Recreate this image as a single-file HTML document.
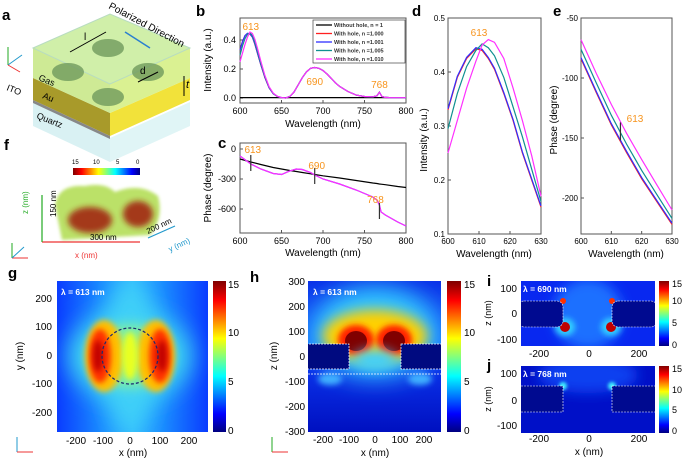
<!DOCTYPE html>
<html><head><meta charset="utf-8"><style>
html,body{margin:0;padding:0;background:#fff;}
svg{display:block;font-family:"Liberation Sans",Arial,sans-serif;}
</style></head><body>
<svg id="fig" width="685" height="460" viewBox="0 0 685 460" xmlns="http://www.w3.org/2000/svg">
<defs>
<linearGradient id="jet" x1="0" y1="1" x2="0" y2="0">
<stop offset="0" stop-color="#00007f"/><stop offset="0.12" stop-color="#0000ff"/><stop offset="0.37" stop-color="#00ffff"/><stop offset="0.62" stop-color="#ffff00"/><stop offset="0.87" stop-color="#ff0000"/><stop offset="1" stop-color="#7f0000"/></linearGradient>
<linearGradient id="jeth" x1="0" y1="0" x2="1" y2="0">
<stop offset="0" stop-color="#7f0000"/><stop offset="0.13" stop-color="#ff0000"/><stop offset="0.38" stop-color="#ffff00"/><stop offset="0.63" stop-color="#00ffff"/><stop offset="0.88" stop-color="#0000ff"/><stop offset="1" stop-color="#00007f"/></linearGradient>
<linearGradient id="gbg" x1="0" y1="0" x2="1" y2="0">
<stop offset="0" stop-color="#0a3cff"/><stop offset="0.3" stop-color="#1a8cff"/><stop offset="0.5" stop-color="#30b8ff"/><stop offset="0.7" stop-color="#1a8cff"/><stop offset="1" stop-color="#0a3cff"/></linearGradient>
<linearGradient id="hbg" x1="0" y1="0" x2="0" y2="1">
<stop offset="0" stop-color="#0a30e8"/><stop offset="0.45" stop-color="#1a70ff"/><stop offset="0.6" stop-color="#0a30e8"/><stop offset="1" stop-color="#0010c0"/></linearGradient>
<filter id="b6" x="-50%" y="-50%" width="200%" height="200%"><feGaussianBlur stdDeviation="6"/></filter>
<filter id="b3" x="-50%" y="-50%" width="200%" height="200%"><feGaussianBlur stdDeviation="3"/></filter>
<filter id="b2" x="-50%" y="-50%" width="200%" height="200%"><feGaussianBlur stdDeviation="1.5"/></filter>
<filter id="b12" x="-50%" y="-50%" width="200%" height="200%"><feGaussianBlur stdDeviation="12"/></filter>
<clipPath id="cg"><rect x="57" y="281" width="151" height="151"/></clipPath>
<clipPath id="ch"><rect x="308" y="281" width="133" height="151"/></clipPath>
<clipPath id="ci"><rect x="521" y="281" width="134" height="65"/></clipPath>
<clipPath id="cj"><rect x="521" y="366" width="134" height="67"/></clipPath>
</defs>

<!-- Panel a -->
<g>
<text x="2" y="20" font-size="15" font-weight="bold">a</text>
<polygon points="33,102 110,138 110,162 33,126" fill="#cfeef0" opacity="0.8"/>
<polygon points="110,138 190,102 190,126 110,162" fill="#d8f2f4" opacity="0.8"/>
<polygon points="33,78 110,113 110,136 33,100" fill="#a89a2a"/>
<polygon points="110,113 190,78 190,100 110,136" fill="#f2e23a"/>
<polygon points="33,100 110,136 110,139 33,103" fill="#888"/>
<polygon points="33,48 110,84 110,113 33,78" fill="#c9e88a" opacity="0.9"/>
<polygon points="110,84 190,48 190,78 110,113" fill="#d6ef86" opacity="0.9"/>
<polygon points="33,48 110,14 190,48 110,84" fill="#c8ec9a" opacity="0.85"/>
<polygon points="33,48 110,14 190,48 110,84" fill="none" stroke="#b8dcc0"/>
<ellipse cx="108" cy="48" rx="16" ry="9" fill="#6f9a5c" opacity="0.8"/>
<ellipse cx="68" cy="72" rx="16" ry="9" fill="#6f9a5c" opacity="0.8"/>
<ellipse cx="148" cy="72" rx="16" ry="9" fill="#6f9a5c" opacity="0.8"/>
<ellipse cx="108" cy="97" rx="16" ry="9" fill="#6f9a5c" opacity="0.8"/>
<line x1="70" y1="52" x2="106" y2="32" stroke="#000" stroke-width="1"/>
<text x="84" y="40" font-size="10">l</text>
<line x1="138" y1="82" x2="158" y2="72" stroke="#000"/>
<text x="140" y="74" font-size="10">d</text>
<text x="186" y="88" font-size="11" font-style="italic">t</text>
<line x1="184" y1="76" x2="184" y2="96" stroke="#000"/>
<text x="108" y="8" font-size="10" transform="rotate(28 108 8)">Polarized Direction</text>
<line x1="125" y1="32" x2="150" y2="48" stroke="#2a7fd0" stroke-width="1.5"/>
<text x="38" y="80" font-size="9" transform="rotate(22 38 80)">Gas</text>
<text x="42" y="98" font-size="9" transform="rotate(22 42 98)">Au</text>
<text x="36" y="118" font-size="9" transform="rotate(22 36 118)">Quartz</text>
<text x="6" y="90" font-size="9" transform="rotate(22 6 90)">ITO</text>
<line x1="8" y1="65" x2="8" y2="47" stroke="#2a2"/><line x1="8" y1="65" x2="22" y2="55" stroke="#29c"/><line x1="8" y1="65" x2="20" y2="72" stroke="#e33"/>
</g>

<!-- Panel f -->
<g>
<text x="4" y="150" font-size="15" font-weight="bold">f</text>
<rect x="73" y="168" width="67" height="7" fill="url(#jeth)"/>
<text x="72" y="164" font-size="6">15</text><text x="93" y="164" font-size="6">10</text><text x="116" y="164" font-size="6">5</text><text x="136" y="164" font-size="6">0</text>
<path d="M55,205 Q58,184 85,186 Q105,182 115,192 Q140,182 158,196 Q164,218 150,235 L62,240 Z" fill="#b8e060" opacity="0.95" filter="url(#b2)"/>
<ellipse cx="90" cy="220" rx="22" ry="13" fill="#a01a08" opacity="0.85" filter="url(#b3)"/>
<ellipse cx="138" cy="214" rx="15" ry="13" fill="#a01a08" opacity="0.85" filter="url(#b3)"/>
<line x1="42" y1="242" x2="140" y2="242" stroke="#e33" stroke-width="1.2"/>
<line x1="42" y1="242" x2="42" y2="195" stroke="#2a2" stroke-width="1.2"/>
<line x1="148" y1="238" x2="175" y2="226" stroke="#29c" stroke-width="1.2"/>
<text x="56" y="217" font-size="8" transform="rotate(-90 56 217)">150 nm</text>
<text x="90" y="240" font-size="8">300 nm</text>
<text x="148" y="234" font-size="8" transform="rotate(-25 148 234)">200 nm</text>
<text x="75" y="258" font-size="8" fill="#e33">x (nm)</text>
<text x="170" y="252" font-size="8" fill="#29c" transform="rotate(-25 170 252)">y (nm)</text>
<text x="28" y="214" font-size="8" fill="#2a2" transform="rotate(-90 28 214)">z (nm)</text>
<line x1="12" y1="258" x2="12" y2="243" stroke="#2a2"/><line x1="12" y1="258" x2="28" y2="258" stroke="#e33"/><line x1="12" y1="258" x2="24" y2="247" stroke="#29c"/>
</g>

<g id="charts"></g>

<!-- Panel g -->
<g>
<text x="8" y="278" font-size="15" font-weight="bold">g</text>
<g clip-path="url(#cg)">
<rect x="57" y="281" width="151" height="151" fill="url(#gbg)"/>
<ellipse cx="130" cy="356" rx="62" ry="45" fill="#40d8f0" filter="url(#b12)"/>
<ellipse cx="130" cy="356" rx="24" ry="80" fill="#40d0f8" filter="url(#b12)"/>
<ellipse cx="130" cy="356" rx="40" ry="32" fill="#80f0a0" filter="url(#b6)"/>
<ellipse cx="104" cy="356" rx="19" ry="36" fill="#ffc000" filter="url(#b3)"/>
<ellipse cx="156" cy="356" rx="19" ry="36" fill="#ffc000" filter="url(#b3)"/>
<ellipse cx="100" cy="356" rx="11" ry="27" fill="#ff3000" filter="url(#b3)"/>
<ellipse cx="160" cy="356" rx="11" ry="27" fill="#ff3000" filter="url(#b3)"/>
<ellipse cx="98" cy="356" rx="5" ry="16" fill="#c00000" filter="url(#b3)"/>
<ellipse cx="162" cy="356" rx="5" ry="16" fill="#c00000" filter="url(#b3)"/>
<ellipse cx="130" cy="356" rx="8" ry="24" fill="#e8ff20" filter="url(#b3)"/>
</g>
<ellipse cx="130" cy="356" rx="28" ry="28" fill="none" stroke="#1c2a70" stroke-width="1.2" stroke-dasharray="3,2"/>
<text x="61" y="295" font-size="8.5" font-weight="bold" fill="#fff">λ = 613 nm</text>
<rect x="213" y="281" width="13" height="151" fill="url(#jet)"/>
<text x="228" y="288" font-size="10">15</text><text x="228" y="336" font-size="10">10</text><text x="228" y="385" font-size="10">5</text><text x="228" y="434" font-size="10">0</text>
<g font-size="10" text-anchor="end"><text x="52" y="302">200</text><text x="52" y="330">100</text><text x="52" y="359">0</text><text x="52" y="387">-100</text><text x="52" y="416">-200</text></g>
<g font-size="10" text-anchor="middle"><text x="76" y="444">-200</text><text x="103" y="444">-100</text><text x="130" y="444">0</text><text x="160" y="444">100</text><text x="189" y="444">200</text></g>
<text x="133" y="456" font-size="10" text-anchor="middle">x (nm)</text>
<text x="23" y="356" font-size="10" text-anchor="middle" transform="rotate(-90 23 356)">y (nm)</text>
<line x1="17" y1="452" x2="17" y2="437" stroke="#29c"/><line x1="17" y1="452" x2="33" y2="452" stroke="#e33"/>
</g>

<!-- Panel h -->
<g>
<text x="250" y="282" font-size="15" font-weight="bold">h</text>
<g clip-path="url(#ch)">
<rect x="308" y="281" width="133" height="151" fill="url(#hbg)"/>
<ellipse cx="375" cy="332" rx="64" ry="46" fill="#30c8ff" filter="url(#b12)"/>
<ellipse cx="375" cy="336" rx="52" ry="26" fill="#ffd000" filter="url(#b6)"/>
<ellipse cx="356" cy="340" rx="18" ry="15" fill="#ff2000" filter="url(#b3)"/>
<ellipse cx="394" cy="340" rx="18" ry="15" fill="#ff2000" filter="url(#b3)"/>
<ellipse cx="356" cy="341" rx="11" ry="10" fill="#800000"/>
<ellipse cx="394" cy="341" rx="11" ry="10" fill="#800000"/>
<ellipse cx="375" cy="360" rx="22" ry="10" fill="#40d0ff" filter="url(#b6)"/>
<ellipse cx="330" cy="379" rx="12" ry="6" fill="#40b0ff" filter="url(#b3)"/>
<ellipse cx="420" cy="379" rx="12" ry="6" fill="#40b0ff" filter="url(#b3)"/>
<rect x="306" y="344" width="43" height="25" fill="#000a80" stroke="#fff" stroke-dasharray="2,1" stroke-width="0.7"/>
<rect x="401" y="344" width="42" height="25" fill="#000a80" stroke="#fff" stroke-dasharray="2,1" stroke-width="0.7"/>
<line x1="308" y1="374" x2="441" y2="374" stroke="#fff" stroke-dasharray="2,1" stroke-width="0.7"/>
</g>
<text x="313" y="295" font-size="8.5" font-weight="bold" fill="#fff">λ = 613 nm</text>
<rect x="447" y="281" width="14" height="151" fill="url(#jet)"/>
<text x="464" y="288" font-size="10">15</text><text x="464" y="336" font-size="10">10</text><text x="464" y="385" font-size="10">5</text><text x="464" y="434" font-size="10">0</text>
<g font-size="10" text-anchor="end"><text x="305" y="285">300</text><text x="305" y="310">200</text><text x="305" y="335">100</text><text x="305" y="360">0</text><text x="305" y="385">-100</text><text x="305" y="410">-200</text><text x="305" y="435">-300</text></g>
<g font-size="10" text-anchor="middle"><text x="323" y="443">-200</text><text x="349" y="443">-100</text><text x="375" y="443">0</text><text x="400" y="443">100</text><text x="424" y="443">200</text></g>
<text x="375" y="456" font-size="10" text-anchor="middle">x (nm)</text>
<text x="277" y="356" font-size="10" text-anchor="middle" transform="rotate(-90 277 356)">z (nm)</text>
<line x1="272" y1="452" x2="272" y2="437" stroke="#2a2"/><line x1="272" y1="452" x2="288" y2="452" stroke="#e33"/>
</g>

<!-- Panel i -->
<g>
<text x="487" y="286" font-size="15" font-weight="bold">i</text>
<g clip-path="url(#ci)">
<rect x="521" y="281" width="134" height="65" fill="#0828f0"/>
<ellipse cx="588" cy="314" rx="35" ry="35" fill="#1a70ff" filter="url(#b6)"/>
<ellipse cx="565" cy="327" rx="10" ry="9" fill="#30d0ff" filter="url(#b3)"/>
<ellipse cx="611" cy="327" rx="10" ry="9" fill="#30d0ff" filter="url(#b3)"/>
<ellipse cx="565" cy="327" rx="5" ry="5" fill="#c00000"/>
<ellipse cx="611" cy="327" rx="5" ry="5" fill="#c00000"/>
<ellipse cx="563" cy="301" rx="3" ry="3" fill="#ff3000"/>
<ellipse cx="612" cy="301" rx="3" ry="3" fill="#ff3000"/>
<rect x="518" y="301" width="45" height="26" rx="6" fill="#000a90" stroke="#fff" stroke-dasharray="2,1" stroke-width="0.6"/>
<rect x="612" y="301" width="45" height="26" rx="6" fill="#000a90" stroke="#fff" stroke-dasharray="2,1" stroke-width="0.6"/>
</g>
<text x="523" y="292" font-size="8.5" font-weight="bold" fill="#fff">λ = 690 nm</text>
<rect x="659" y="281" width="10" height="65" fill="url(#jet)"/>
<text x="672" y="287" font-size="9">15</text><text x="672" y="304" font-size="9">10</text><text x="672" y="326" font-size="9">5</text><text x="672" y="348" font-size="9">0</text>
<g font-size="10" text-anchor="end"><text x="517" y="292">100</text><text x="517" y="317">0</text><text x="517" y="343">-100</text></g>
<g font-size="10" text-anchor="middle"><text x="539" y="357">-200</text><text x="589" y="357">0</text><text x="639" y="357">200</text></g>
<text x="491" y="313" font-size="9" text-anchor="middle" transform="rotate(-90 491 313)">z (nm)</text>
</g>

<!-- Panel j -->
<g>
<text x="487" y="370" font-size="15" font-weight="bold">j</text>
<g clip-path="url(#cj)">
<rect x="521" y="366" width="134" height="67" fill="#0010c8"/>
<ellipse cx="588" cy="375" rx="50" ry="18" fill="#1040f0" filter="url(#b6)"/>
<ellipse cx="563" cy="386" rx="4" ry="4" fill="#40f0ff" filter="url(#b2)"/>
<ellipse cx="612" cy="386" rx="4" ry="4" fill="#40f0ff" filter="url(#b2)"/>
<rect x="518" y="386" width="45" height="26" fill="#000a90" stroke="#fff" stroke-dasharray="2,1" stroke-width="0.6"/>
<rect x="612" y="386" width="45" height="26" fill="#000a90" stroke="#fff" stroke-dasharray="2,1" stroke-width="0.6"/>
</g>
<text x="523" y="377" font-size="8.5" font-weight="bold" fill="#fff">λ = 768 nm</text>
<rect x="659" y="366" width="10" height="67" fill="url(#jet)"/>
<text x="672" y="372" font-size="9">15</text><text x="672" y="393" font-size="9">10</text><text x="672" y="413" font-size="9">5</text><text x="672" y="434" font-size="9">0</text>
<g font-size="10" text-anchor="end"><text x="517" y="377">100</text><text x="517" y="404">0</text><text x="517" y="429">-100</text></g>
<g font-size="10" text-anchor="middle"><text x="539" y="442">-200</text><text x="589" y="442">0</text><text x="639" y="442">200</text></g>
<text x="589" y="455" font-size="10" text-anchor="middle">x (nm)</text>
<text x="491" y="399" font-size="9" text-anchor="middle" transform="rotate(-90 491 399)">z (nm)</text>
</g>
</svg>
<script>
// Panel b data
const wlB=[600,603,606,609,612,615,618,621,625,630,635,640,645,650,655,660,665,670,675,680,685,690,695,700,705,710,715,720,730,740,750,760,765,768,771,775,780,790,800];
const bRed=[0.33,0.39,0.43,0.445,0.44,0.42,0.37,0.31,0.23,0.14,0.07,0.03,0.01,0.003,0.0,0.01,0.04,0.09,0.14,0.18,0.205,0.21,0.205,0.19,0.165,0.135,0.105,0.08,0.045,0.02,0.01,0.008,0.015,0.04,0.01,0.004,0.003,0.002,0.002];
const bBlue=[0.33,0.39,0.43,0.446,0.442,0.42,0.372,0.312,0.232,0.142,0.07,0.03,0.01,0.003,0.0,0.01,0.04,0.09,0.14,0.18,0.205,0.21,0.205,0.19,0.165,0.135,0.105,0.08,0.045,0.02,0.01,0.008,0.015,0.04,0.01,0.004,0.003,0.002,0.002];
const bTeal=[0.295,0.36,0.41,0.44,0.45,0.43,0.385,0.325,0.24,0.148,0.074,0.032,0.011,0.003,0.0,0.01,0.04,0.09,0.14,0.18,0.205,0.21,0.205,0.19,0.165,0.135,0.105,0.08,0.045,0.02,0.01,0.008,0.015,0.04,0.01,0.004,0.003,0.002,0.002];
const bMag=[0.25,0.31,0.37,0.42,0.455,0.445,0.405,0.345,0.255,0.155,0.078,0.034,0.012,0.003,0.0,0.01,0.04,0.09,0.14,0.18,0.205,0.21,0.205,0.19,0.165,0.135,0.105,0.08,0.045,0.02,0.01,0.008,0.015,0.04,0.01,0.004,0.003,0.002,0.002];
const bBlack=[0.003,0.003,0.003,0.003,0.003,0.003,0.003,0.003,0.003,0.003,0.003,0.003,0.003,0.003,0.003,0.003,0.003,0.003,0.003,0.003,0.003,0.003,0.003,0.003,0.003,0.003,0.003,0.003,0.003,0.003,0.003,0.003,0.003,0.003,0.003,0.003,0.003,0.003,0.003];
const bTicksX=[600,650,700,750,800];
const bTicksY=[0.0,0.2,0.4];
// Panel c data
const wlC=[600,613,625,640,650,660,668,675,685,690,700,720,740,760,765,768,770,775,790,800];
const cBlack=[-100,-130,-155,-185,-200,-215,-225,-235,-248,-255,-268,-290,-315,-340,-345,-350,-352,-357,-375,-385];
const cColor=[-70,-150,-200,-245,-255,-220,-200,-205,-235,-260,-300,-350,-410,-480,-510,-560,-630,-660,-730,-770];
const cTicksY=[0,-300,-600];
// Panel d data
const wlD=[600,603,606,609,611,613,615,618,621,624,627,630];
const dRed=[0.33,0.39,0.425,0.443,0.44,0.425,0.405,0.36,0.31,0.25,0.2,0.15];
const dBlue=[0.332,0.392,0.427,0.445,0.442,0.427,0.407,0.362,0.312,0.252,0.202,0.152];
const dTeal=[0.295,0.36,0.41,0.44,0.452,0.445,0.43,0.39,0.335,0.28,0.22,0.16];
const dMag=[0.25,0.31,0.37,0.42,0.45,0.46,0.455,0.425,0.37,0.31,0.245,0.17];
const dTicksY=[0.1,0.2,0.3,0.4,0.5];
const dTicksX=[600,610,620,630];
// Panel e data
const wlE=[600,605,610,615,620,625,630];
const eRed=[-84,-112,-139,-162,-184,-203,-222];
const eBlue=[-83,-111,-138,-161,-183,-202,-221];
const eTeal=[-76,-104,-131,-155,-177,-197,-217];
const eMag=[-68,-96,-122,-146,-168,-189,-210];
const eTicksY=[-50,-100,-150,-200];

const NS="http://www.w3.org/2000/svg";
const root=document.getElementById('charts');
function mk(tag,attrs,parent){const e=document.createElementNS(NS,tag);for(const k in attrs)e.setAttribute(k,attrs[k]);(parent||root).appendChild(e);return e;}
function scale(d0,d1,p0,p1){return v=>p0+(v-d0)*(p1-p0)/(d1-d0);}
function txt(x,y,s,size,anchor,fill,parent,rot){const t=mk('text',{x:x,y:y,'font-size':size,'text-anchor':anchor||'start',fill:fill||'#000'},parent);if(rot)t.setAttribute('transform','rotate(-90 '+x+' '+y+')');t.textContent=s;return t;}
function line(xs,ys,sx,sy,col,g,name){let d='';xs.forEach((x,i)=>{d+=(i?'L':'M')+sx(x).toFixed(1)+','+sy(ys[i]).toFixed(1);});const p=mk('path',{d:d,fill:'none',stroke:col,'stroke-width':1.2},g);

return p;}
function frame(g,x0,y0,x1,y1){mk('rect',{x:x0,y:y0,width:x1-x0,height:y1-y0,fill:'none',stroke:'#555','stroke-width':1},g);}
const OR='#f7941d';

// b
const gb=mk('g',{});


{const x0=240,x1=406,y0=18,y1=103;const sx=scale(600,800,x0,x1),sy=scale(0,0.2,98,69);
frame(gb,x0,y0,x1,y1);
bTicksX.forEach(v=>{mk('line',{x1:sx(v),x2:sx(v),y1:y1,y2:y1-3,stroke:'#555'},gb);txt(sx(v),y1+11,String(v),9,'middle','#000',gb);});
bTicksY.forEach(v=>{mk('line',{x1:x0,x2:x0+3,y1:sy(v),y2:sy(v),stroke:'#555'},gb);txt(x0-4,sy(v)+3,v.toFixed(1),9,'end','#000',gb);});
txt(323,127,'Wavelength (nm)',10,'middle','#000',gb);
txt(211,60,'Intensity (a.u.)',10,'middle','#000',gb,true);
line(wlB,bBlack,sx,sy,'#000',gb,'series-without-hole');
line(wlB,bRed,sx,sy,'#ff2020',gb,'series-n-1000');
line(wlB,bBlue,sx,sy,'#3030ff',gb,'series-n-1001');
line(wlB,bTeal,sx,sy,'#109090',gb,'series-n-1005');
line(wlB,bMag,sx,sy,'#ff30ff',gb,'series-n-1010');
txt(sx(613),30,'613',10,'middle',OR,gb);txt(sx(690),85,'690',10,'middle',OR,gb);txt(sx(768),88,'768',10,'middle',OR,gb);
txt(196,16,'b',15,'start','#000',gb).setAttribute('font-weight','bold');
const lg=mk('g',{},gb);


mk('rect',{x:313,y:20,width:92,height:43,fill:'#fff',stroke:'#444','stroke-width':0.7},lg);
const labs=['Without hole, n = 1','With hole, n =1.000','With hole, n =1.001','With hole, n =1.005','With hole, n =1.010'];
const cols=['#000','#ff2020','#3030ff','#109090','#ff30ff'];
labs.forEach((l,i)=>{const y=25+i*8.5;const e=mk('g',{},lg);


mk('line',{x1:316,x2:332,y1:y,y2:y,stroke:cols[i],'stroke-width':1.3},e);const t=txt(334,y+2,l,5.5,'start','#333',e);t.setAttribute('font-weight','bold');});
}
// c
const gc=mk('g',{});


{const x0=240,x1=406,y0=143,y1=233;const sx=scale(600,800,x0,x1),sy=scale(0,-300,149,179);
frame(gc,x0,y0,x1,y1);
bTicksX.forEach(v=>{mk('line',{x1:sx(v),x2:sx(v),y1:y1,y2:y1-3,stroke:'#555'},gc);txt(sx(v),y1+11,String(v),9,'middle','#000',gc);});
cTicksY.forEach(v=>{mk('line',{x1:x0,x2:x0+3,y1:sy(v),y2:sy(v),stroke:'#555'},gc);txt(x0-4,sy(v)+3,String(v),9,'end','#000',gc);});
txt(323,256,'Wavelength (nm)',10,'middle','#000',gc);
txt(211,188,'Phase (degree)',10,'middle','#000',gc,true);
line(wlC,cBlack,sx,sy,'#000',gc,'phase-without-hole');
line(wlC,cColor,sx,sy,'#3030ff',gc,'phase-n-1001');
line(wlC,cColor,sx,sy,'#ff30ff',gc,'phase-n-1010');
[[613,-140],[690,-270],[768,-620]].forEach(m=>mk('line',{x1:sx(m[0]),x2:sx(m[0]),y1:sy(m[1])-8,y2:sy(m[1])+8,stroke:'#333','stroke-width':1.2},gc));
txt(sx(613)+2,153,'613',10,'middle',OR,gc);txt(sx(690)+2,169,'690',10,'middle',OR,gc);txt(sx(768)-4,203,'768',10,'middle',OR,gc);
txt(218,148,'c',15,'start','#000',gc).setAttribute('font-weight','bold');
}
// d
const gd=mk('g',{});


{const x0=448,x1=541,y0=18,y1=234;const sx=scale(600,630,x0,x1),sy=scale(0.1,0.5,234,18);
frame(gd,x0,y0,x1,y1);
dTicksX.forEach(v=>{mk('line',{x1:sx(v),x2:sx(v),y1:y1,y2:y1-3,stroke:'#555'},gd);txt(sx(v),y1+10,String(v),8,'middle','#000',gd);});
dTicksY.forEach(v=>{mk('line',{x1:x0,x2:x0+3,y1:sy(v),y2:sy(v),stroke:'#555'},gd);txt(x0-3,sy(v)+3,v.toFixed(1),8,'end','#000',gd);});
txt(494,257,'Wavelength (nm)',10,'middle','#000',gd);
txt(427,140,'Intensity (a.u.)',10,'middle','#000',gd,true);
line(wlD,dRed,sx,sy,'#ff2020',gd,'d-series-n-1000');
line(wlD,dBlue,sx,sy,'#3030ff',gd,'d-series-n-1001');
line(wlD,dTeal,sx,sy,'#109090',gd,'d-series-n-1005');
line(wlD,dMag,sx,sy,'#ff30ff',gd,'d-series-n-1010');
txt(479,36,'613',10,'middle',OR,gd);
txt(412,16,'d',15,'start','#000',gd).setAttribute('font-weight','bold');
}
// e
const ge=mk('g',{});


{const x0=581,x1=672,y0=18,y1=234;const sx=scale(600,630,x0,x1),sy=scale(-50,-200,18,198);
frame(ge,x0,y0,x1,y1);
dTicksX.forEach(v=>{mk('line',{x1:sx(v),x2:sx(v),y1:y1,y2:y1-3,stroke:'#555'},ge);txt(sx(v),y1+10,String(v),8,'middle','#000',ge);});
eTicksY.forEach(v=>{mk('line',{x1:x0,x2:x0+3,y1:sy(v),y2:sy(v),stroke:'#555'},ge);txt(x0-3,sy(v)+3,String(v),8,'end','#000',ge);});
txt(626,257,'Wavelength (nm)',10,'middle','#000',ge);
txt(557,120,'Phase (degree)',10,'middle','#000',ge,true);
line(wlE,eRed,sx,sy,'#ff2020',ge,'e-series-n-1000');
line(wlE,eBlue,sx,sy,'#3030ff',ge,'e-series-n-1001');
line(wlE,eTeal,sx,sy,'#109090',ge,'e-series-n-1005');
line(wlE,eMag,sx,sy,'#ff30ff',ge,'e-series-n-1010');
mk('line',{x1:sx(613),x2:sx(613),y1:sy(-137),y2:sy(-152),stroke:'#333','stroke-width':1.2},ge);
txt(635,122,'613',10,'middle',OR,ge);
txt(553,16,'e',15,'start','#000',ge).setAttribute('font-weight','bold');
}
</script>
</body></html>
